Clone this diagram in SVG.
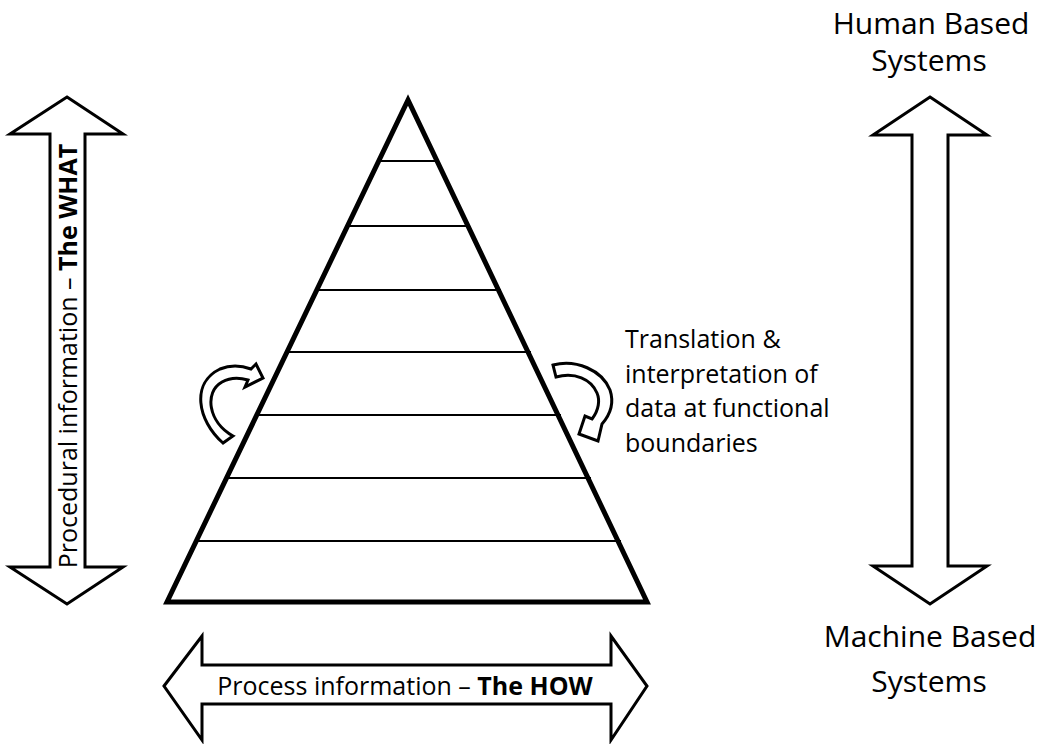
<svg xmlns="http://www.w3.org/2000/svg" width="1044" height="744" viewBox="0 0 1044 744">
<style>
.blk{fill:#fff;stroke:#000;stroke-width:3;stroke-linejoin:miter}
.tri{fill:#fff;stroke:#000;stroke-width:5;stroke-linejoin:miter}
.lvl{stroke:#000;stroke-width:2}
.t{font-family:"Open Sans","Liberation Sans",sans-serif;font-size:25px;fill:#000}
.big{font-size:30px}
.b{font-weight:bold}
</style>
<rect width="1044" height="744" fill="#fff"/>
<g id="pyramid">
<polygon class="tri" points="408,100 167,602 647,602"/>
<line class="lvl" x1="377" y1="161" x2="439" y2="161"/>
<line class="lvl" x1="346" y1="226" x2="470" y2="226"/>
<line class="lvl" x1="315" y1="290" x2="501" y2="290"/>
<line class="lvl" x1="285" y1="352" x2="531" y2="352"/>
<line class="lvl" x1="255" y1="415" x2="561" y2="415"/>
<line class="lvl" x1="225" y1="478" x2="591" y2="478"/>
<line class="lvl" x1="195" y1="541" x2="621" y2="541"/>
</g>
<g id="connectors">
<g id="what-arrow">
<polygon class="blk" points="67,97 123,134 85,134 85,567 123,567 67,604 10,567 50,567 50,134 10,134"/>
<text class="t" transform="translate(77,356) rotate(-90)" text-anchor="middle">Procedural information – <tspan class="b">The WHAT</tspan></text>
</g>
<g id="how-arrow">
<polygon class="blk" points="164,686 202,636 202,665 611,665 611,636 647,686 611,740 611,704 202,704 202,740"/>
<text class="t" x="405" y="695" text-anchor="middle">Process information – <tspan class="b">The HOW</tspan></text>
</g>
<g id="system-arrow">
<polygon class="blk" points="930,97 987,135 948,135 948,566 987,566 930,604 873,566 912,566 912,135 873,135"/>
</g>
<g id="curve-left">
<path class="blk" stroke-width="2.5" d="M223,443 C197,420 191,383 220,369 C232,364 243,366 251,369 L256,364 L263,378 L245,387 L248,380 C238,377 229,378 222,382 C204,392 208,422 233,436 Z"/>
</g>
<g id="curve-right">
<path class="blk" stroke-width="2.5" d="M553,365 C576,359 602,370 610,390 C615,405 609,416 602,424 L598,441 L579,434 L585,416 L592,419 C599,410 600,400 597,393 C591,379 575,372 556,377 Z"/>
</g>
</g>
<g id="labels">
<text class="t big" x="931" y="34" text-anchor="middle">Human Based</text>
<text class="t big" x="929" y="71" text-anchor="middle">Systems</text>
<text class="t big" x="930" y="647" text-anchor="middle">Machine Based</text>
<text class="t big" x="929" y="692" text-anchor="middle">Systems</text>
<text class="t" x="625" y="348">Translation &amp;</text>
<text class="t" x="625" y="383">interpretation of</text>
<text class="t" x="625" y="417">data at functional</text>
<text class="t" x="625" y="452">boundaries</text>
</g>
</svg>
